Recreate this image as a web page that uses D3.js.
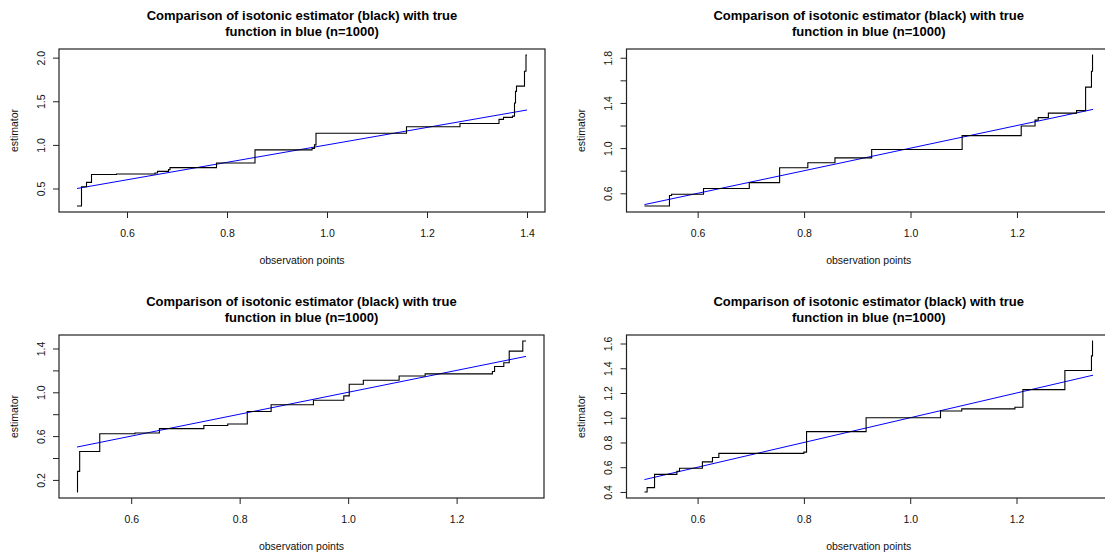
<!DOCTYPE html>
<html>
<head>
<meta charset="utf-8">
<script src="https://cdn.jsdelivr.net/npm/d3@7"></script>
<style>
  body { margin: 0; background: #fff; }
  svg { display: block; font-family: "Liberation Sans", Arial, sans-serif; }
</style>
</head>
<body>
<svg width="1105" height="555"></svg>
<script>
// texts
const titleLines = ["Comparison of isotonic estimator (black) with true", "function in blue (n=1000)"];
const xTitle = "observation points";
const yTitle = "estimator";

// panel 1 (top left) : isotonic estimate, knots where the step jumps
const stepX1 = [0.500, 0.509, 0.519, 0.529, 0.579, 0.656, 0.661, 0.683, 0.686, 0.779, 0.856, 0.970, 0.975, 0.978, 1.159, 1.266, 1.344, 1.353, 1.371, 1.375, 1.377, 1.379, 1.395, 1.398, 1.400];
const stepY1 = [0.30, 0.52, 0.57, 0.66, 0.667, 0.678, 0.697, 0.716, 0.739, 0.792, 0.943, 0.96, 1.00, 1.133, 1.208, 1.246, 1.292, 1.315, 1.33, 1.48, 1.614, 1.674, 1.844, 2.03, 2.03];
const trueX1 = [0.5, 1.4];
const trueY1 = [0.5, 1.4];
const xTicks1 = [0.6, 0.8, 1.0, 1.2, 1.4];
const yTicks1 = [0.5, 1.0, 1.5, 2.0];
const yLabels1 = [0.5, 1.0, 1.5, 2.0];

// panel 2 (top right)
const stepX2 = [0.500, 0.547, 0.551, 0.611, 0.697, 0.754, 0.807, 0.858, 0.927, 1.097, 1.208, 1.234, 1.240, 1.259, 1.312, 1.329, 1.340, 1.342, 1.343];
const stepY2 = [0.488, 0.580, 0.592, 0.642, 0.695, 0.826, 0.870, 0.914, 0.988, 1.111, 1.196, 1.248, 1.270, 1.31, 1.332, 1.54, 1.68, 1.824, 1.824];
const trueX2 = [0.5, 1.343];
const trueY2 = [0.5, 1.343];
const xTicks2 = [0.6, 0.8, 1.0, 1.2];
const yTicks2 = [0.6, 0.8, 1.0, 1.2, 1.4, 1.6, 1.8];
const yLabels2 = [0.6, 1.0, 1.4, 1.8];

// panel 3 (bottom left)
const stepX3 = [0.500, 0.501, 0.505, 0.542, 0.607, 0.652, 0.734, 0.778, 0.814, 0.858, 0.936, 0.992, 1.002, 1.028, 1.094, 1.142, 1.266, 1.270, 1.287, 1.297, 1.322, 1.328];
const stepY3 = [0.09, 0.278, 0.459, 0.622, 0.628, 0.668, 0.697, 0.710, 0.824, 0.886, 0.928, 0.967, 1.073, 1.11, 1.149, 1.168, 1.19, 1.235, 1.270, 1.376, 1.468, 1.468];
const trueX3 = [0.5, 1.328];
const trueY3 = [0.5, 1.328];
const xTicks3 = [0.6, 0.8, 1.0, 1.2];
const yTicks3 = [0.2, 0.4, 0.6, 0.8, 1.0, 1.2, 1.4];
const yLabels3 = [0.2, 0.6, 1.0, 1.4];

// panel 4 (bottom right)
const stepX4 = [0.500, 0.505, 0.519, 0.561, 0.566, 0.609, 0.628, 0.640, 0.800, 0.805, 0.917, 1.057, 1.097, 1.197, 1.212, 1.291, 1.341, 1.343, 1.344];
const stepY4 = [0.40, 0.435, 0.542, 0.568, 0.592, 0.643, 0.678, 0.712, 0.722, 0.888, 1.0, 1.054, 1.072, 1.085, 1.227, 1.382, 1.50, 1.62, 1.62];
const trueX4 = [0.5, 1.344];
const trueY4 = [0.5, 1.344];
const xTicks4 = [0.6, 0.8, 1.0, 1.2];
const yTicks4 = [0.4, 0.6, 0.8, 1.0, 1.2, 1.4, 1.6];
const yLabels4 = [0.4, 0.6, 0.8, 1.0, 1.2, 1.4, 1.6];

// plot boxes [left, top, right, bottom] (right panels run off the picture)
const boxes = [
  [59, 49, 545, 212],
  [626.5, 49, 1111, 212],
  [59, 335, 544, 498],
  [626.5, 335, 1111, 498]
];

const panels = [
  { sx: stepX1, sy: stepY1, tx: trueX1, ty: trueY1, xt: xTicks1, yt: yTicks1, yl: yLabels1 },
  { sx: stepX2, sy: stepY2, tx: trueX2, ty: trueY2, xt: xTicks2, yt: yTicks2, yl: yLabels2 },
  { sx: stepX3, sy: stepY3, tx: trueX3, ty: trueY3, xt: xTicks3, yt: yTicks3, yl: yLabels3 },
  { sx: stepX4, sy: stepY4, tx: trueX4, ty: trueY4, xt: xTicks4, yt: yTicks4, yl: yLabels4 }
];

const svg = d3.select('svg');
const fmt = d3.format('.1f');

// R style axis range: data range stretched by 4%
function rRange(vals) {
  const [a, b] = d3.extent(vals);
  const pad = (b - a) * 0.04;
  return [a - pad, b + pad];
}

panels.forEach((p, i) => {
  const [L, T, R, B] = boxes[i];
  const g = svg.append('g');

  const x = d3.scaleLinear().domain(rRange(p.sx.concat(p.tx))).range([L, R]);
  const y = d3.scaleLinear().domain(rRange(p.sy.concat(p.ty))).range([B, T]);

  // true function
  g.append('path')
    .datum(p.tx.map((d, k) => [d, p.ty[k]]))
    .attr('fill', 'none')
    .attr('stroke', '#0000ff')
    .attr('stroke-width', 1)
    .attr('d', d3.line().x(d => x(d[0])).y(d => y(d[1])));

  // isotonic estimator as a step function
  g.append('path')
    .datum(p.sx.map((d, k) => [d, p.sy[k]]))
    .attr('fill', 'none')
    .attr('stroke', '#000')
    .attr('stroke-width', 1.1)
    .attr('d', d3.line().curve(d3.curveStepAfter).x(d => x(d[0])).y(d => y(d[1])));

  // box
  g.append('rect')
    .attr('x', L).attr('y', T)
    .attr('width', R - L).attr('height', B - T)
    .attr('fill', 'none')
    .attr('stroke', '#222')
    .attr('stroke-width', 1.2);

  // x axis
  const xa = g.append('g')
    .attr('transform', `translate(0,${B})`)
    .call(d3.axisBottom(x).tickValues(p.xt).tickSize(6).tickFormat(fmt));
  xa.select('.domain').remove();
  xa.selectAll('line').attr('stroke', '#222');
  xa.selectAll('text')
    .attr('y', 21).attr('dy', '0.35em')
    .attr('fill', '#111')
    .style('font-size', '10.5px')
    .style('font-family', '"Liberation Sans", Arial, sans-serif');

  // y axis, labels turned like in R
  const ya = g.append('g')
    .attr('transform', `translate(${L},0)`)
    .call(d3.axisLeft(y).tickValues(p.yt).tickSize(6)
      .tickFormat(d => p.yl.some(v => Math.abs(v - d) < 1e-9) ? fmt(d) : ''));
  ya.select('.domain').remove();
  ya.selectAll('line').attr('stroke', '#222');
  ya.selectAll('text')
    .attr('transform', 'rotate(-90)')
    .attr('x', 0).attr('y', -18).attr('dy', '0.35em')
    .attr('text-anchor', 'middle')
    .attr('fill', '#111')
    .style('font-size', '10.5px')
    .style('font-family', '"Liberation Sans", Arial, sans-serif');

  // titles
  const cx = (L + R) / 2;
  titleLines.forEach((t, k) => {
    g.append('text')
      .attr('x', cx).attr('y', T - 34 + k * 16)
      .attr('dy', '0.35em')
      .attr('text-anchor', 'middle')
      .style('font-size', '13px')
      .style('font-weight', 'bold')
      .text(t);
  });

  g.append('text')
    .attr('x', cx).attr('y', B + 48)
    .attr('dy', '0.35em')
    .attr('text-anchor', 'middle')
    .attr('fill', '#111')
    .style('font-size', '10.5px')
    .text(xTitle);

  g.append('text')
    .attr('transform', `translate(${L - 45},${(T + B) / 2}) rotate(-90)`)
    .attr('dy', '0.35em')
    .attr('text-anchor', 'middle')
    .attr('fill', '#111')
    .style('font-size', '10.5px')
    .text(yTitle);
});
</script>
</body>
</html>
